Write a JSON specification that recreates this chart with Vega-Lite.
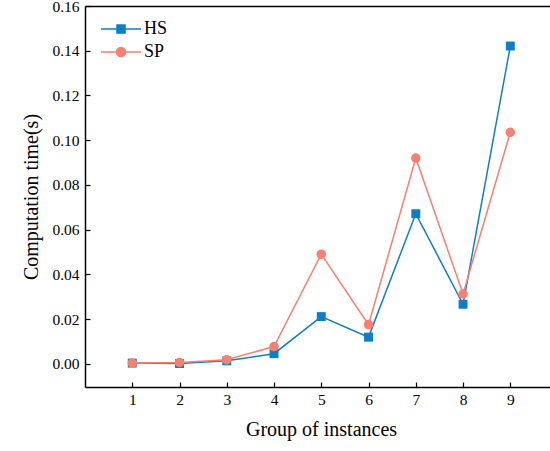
{
  "$schema": "https://vega.github.io/schema/vega-lite/v6.json",
  "autosize": "none",
  "width": 465,
  "height": 381,
  "padding": {"left": 85, "top": 6, "right": 0, "bottom": 64},
  "background": "white",
  "config": {
    "view": {"stroke": null},
    "font": "Liberation Serif",
    "axis": {
      "domainColor": "black",
      "domainWidth": 1.5,
      "tickColor": "black",
      "tickWidth": 1.2,
      "tickSize": -5,
      "grid": false,
      "labelFont": "Liberation Serif",
      "labelFontSize": 15.5,
      "labelColor": "black",
      "titleFont": "Liberation Serif",
      "titleFontSize": 20,
      "titleFontWeight": "normal",
      "titleColor": "black"
    },
    "legend": {
      "labelFont": "Liberation Serif",
      "labelFontSize": 18,
      "labelColor": "black"
    }
  },
  "data": {
    "values": [
      {"group": 1, "series": "HS", "time": 0.0003},
      {"group": 2, "series": "HS", "time": 0.0001},
      {"group": 3, "series": "HS", "time": 0.0013},
      {"group": 4, "series": "HS", "time": 0.0045},
      {"group": 5, "series": "HS", "time": 0.0211},
      {"group": 6, "series": "HS", "time": 0.0119},
      {"group": 7, "series": "HS", "time": 0.0671},
      {"group": 8, "series": "HS", "time": 0.0266},
      {"group": 9, "series": "HS", "time": 0.1421},
      {"group": 1, "series": "SP", "time": 0.0003},
      {"group": 2, "series": "SP", "time": 0.0006},
      {"group": 3, "series": "SP", "time": 0.0018},
      {"group": 4, "series": "SP", "time": 0.0077},
      {"group": 5, "series": "SP", "time": 0.049},
      {"group": 6, "series": "SP", "time": 0.0175},
      {"group": 7, "series": "SP", "time": 0.092},
      {"group": 8, "series": "SP", "time": 0.0312},
      {"group": 9, "series": "SP", "time": 0.1035}
    ]
  },
  "resolve": {"axis": {"x": "independent"}},
  "layer": [
    {
      "mark": {"type": "line", "strokeWidth": 1.5},
      "encoding": {
        "x": {
          "field": "group", "type": "quantitative",
          "scale": {"domain": [0, 9.84], "nice": false, "zero": false},
          "axis": {"values": [1, 2, 3, 4, 5, 6, 7, 8, 9], "title": "Group of instances", "labelPadding": 10, "titlePadding": 12, "titleX": 236}
        },
        "y": {
          "field": "time", "type": "quantitative",
          "scale": {"domain": [-0.0104, 0.16], "nice": false, "zero": false},
          "axis": {"values": [0, 0.02, 0.04, 0.06, 0.08, 0.1, 0.12, 0.14, 0.16], "format": ".2f", "title": "Computation time(s)", "labelPadding": 11, "titlePadding": 10}
        },
        "color": {
          "field": "series", "type": "nominal",
          "scale": {"domain": ["HS", "SP"], "range": ["#0f7ec5", "#fa7f6f"]},
          "legend": {
            "title": null,
            "orient": "none",
            "legendX": 25,
            "legendY": 12,
            "symbolSize": 400,
            "symbolStrokeWidth": 1.5,
            "symbolOpacity": 1,
            "labelOffset": 12,
            "rowPadding": 3
          }
        },
        "detail": {"field": "series"}
      }
    },
    {
      "transform": [{"filter": "datum.series === 'HS'"}],
      "mark": {"type": "point", "filled": true, "size": 80, "opacity": 1, "shape": "square"},
      "encoding": {
        "x": {"field": "group", "type": "quantitative", "axis": null},
        "y": {"field": "time", "type": "quantitative"},
        "color": {"field": "series", "type": "nominal"}
      }
    },
    {
      "transform": [{"filter": "datum.series === 'SP'"}],
      "mark": {"type": "point", "filled": true, "size": 90, "opacity": 1, "shape": "circle"},
      "encoding": {
        "x": {"field": "group", "type": "quantitative", "axis": null},
        "y": {"field": "time", "type": "quantitative"},
        "color": {"field": "series", "type": "nominal"}
      }
    },
    {
      "mark": {"type": "point", "filled": true, "size": 0},
      "encoding": {
        "x": {
          "field": "group", "type": "quantitative",
          "axis": {"orient": "top", "labels": false, "ticks": false, "title": null}
        },
        "y": {"field": "time", "type": "quantitative"},
        "color": {"field": "series", "type": "nominal"},
        "shape": {
          "field": "series", "type": "nominal",
          "scale": {"domain": ["HS", "SP"], "range": ["M-2,0H2M-0.4,-0.4H0.4V0.4H-0.4Z", "M-2,0H2M0.45,0A0.45,0.45,0,1,1,-0.45,0A0.45,0.45,0,1,1,0.45,0Z"]}
        }
      }
    }
  ]
}
